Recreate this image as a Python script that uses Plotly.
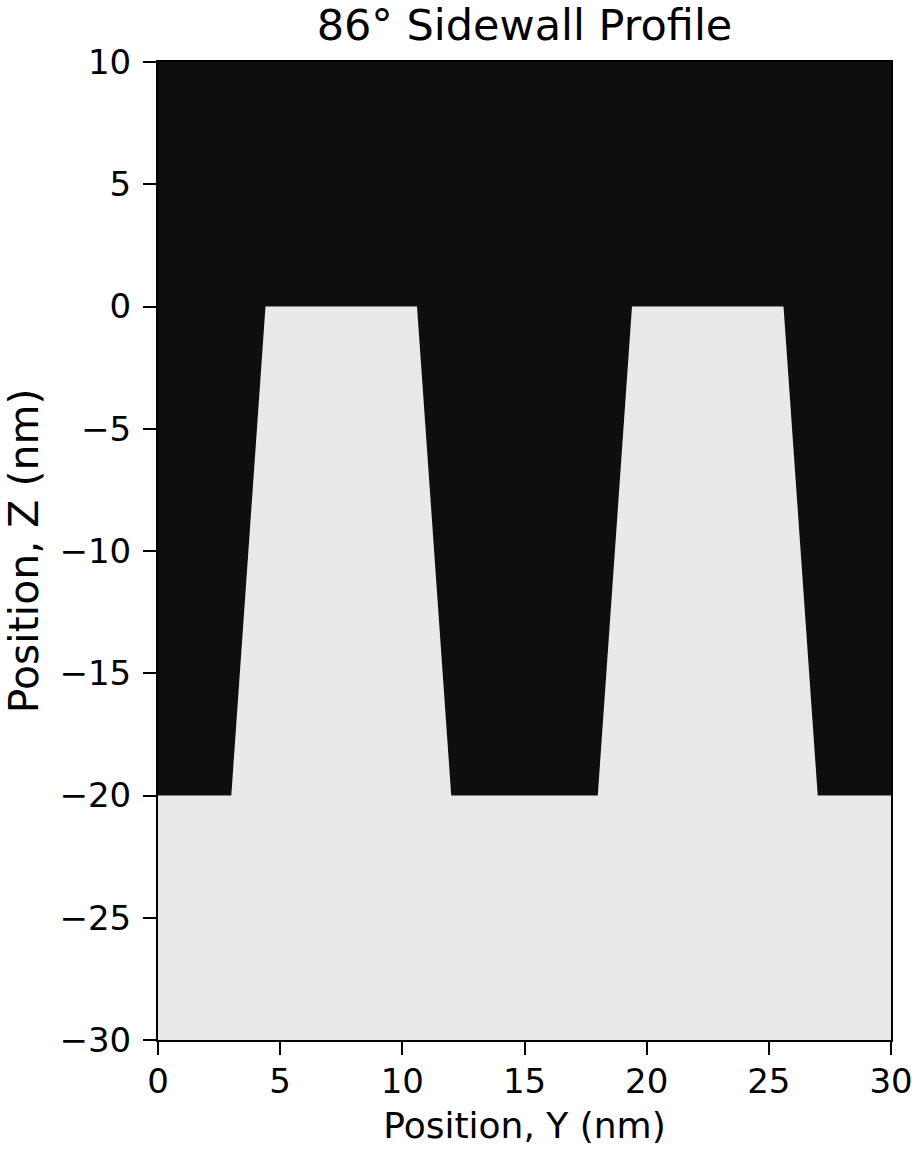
import plotly.graph_objects as go

# Data: profile geometry (nm)
title_text = "86° Sidewall Profile"
x_ticks = [0, 5, 10, 15, 20, 25, 30]
z_ticks = [10, 5, 0, -5, -10, -15, -20, -25, -30]

# Dark (ambient) region outline, Y positions and Z positions
dark_y = [0, 30, 30, 27.0, 25.6, 19.4, 18.0, 12.0, 10.6, 4.4, 3.0, 0, 0]
dark_z = [10, 10, -20, -20, 0, 0, -20, -20, 0, 0, -20, -20, 10]

# Light (material) region outline: substrate plus two lines
light_y = [0, 3.0, 4.4, 10.6, 12.0, 18.0, 19.4, 25.6, 27.0, 30, 30, 0, 0]
light_z = [-20, -20, 0, 0, -20, -20, 0, 0, -20, -20, -30, -30, -20]

FONT = "DejaVu Sans"
fig = go.Figure()
fig.add_trace(go.Scatter(x=light_y, y=light_z, fill="toself", mode="lines",
                         line=dict(width=0, color="#e9e9e9"), fillcolor="#e9e9e9",
                         hoverinfo="skip", showlegend=False))
fig.add_trace(go.Scatter(x=dark_y, y=dark_z, fill="toself", mode="lines",
                         line=dict(width=0, color="#0e0e0e"), fillcolor="#0e0e0e",
                         hoverinfo="skip", showlegend=False))

axis_common = dict(showgrid=False, zeroline=False, showline=True, linecolor="black",
                   linewidth=2, mirror=True, ticks="outside", ticklen=13, tickwidth=2,
                   tickcolor="black", automargin=False,
                   tickfont=dict(family=FONT, size=34, color="black"))

fig.update_layout(
    width=916, height=1152,
    margin=dict(l=158, r=25, t=62, b=112),
    paper_bgcolor="white", plot_bgcolor="white",
    title=dict(text=title_text, x=0.5726, xanchor="center", y=0.9783, yanchor="middle",
               font=dict(family=FONT, size=43, color="black")),
    xaxis=dict(range=[0, 30], tickvals=x_ticks, ticklabelstandoff=-3,
               title=dict(text="Position, Y (nm)", font=dict(family=FONT, size=36, color="black"), standoff=13),
               **axis_common),
    yaxis=dict(range=[-30, 10], tickvals=z_ticks, ticklabelstandoff=5,
               title=dict(text="Position, Z (nm)", font=dict(family=FONT, size=41, color="black"), standoff=19),
               **axis_common),
)

# Remove the default 8px body margin so the figure fills the window exactly.
fig.write_html("out.html", config={"displayModeBar": False},
               post_script="document.body.style.margin='0';")
